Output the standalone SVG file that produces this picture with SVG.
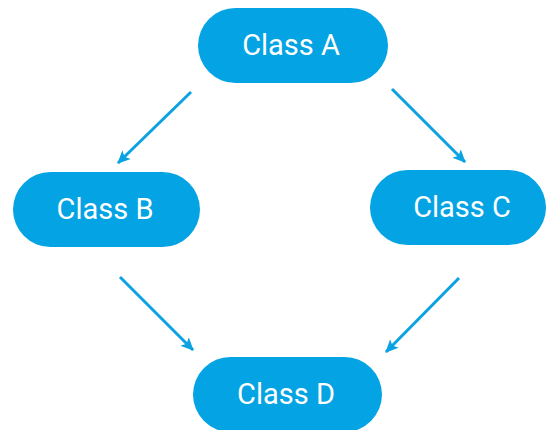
<svg xmlns="http://www.w3.org/2000/svg" width="546" height="430" viewBox="0 0 546 430">
<style>
.node rect{fill:#03a3e4;}
.node text{fill:#ffffff;font-family:Roboto,"Liberation Sans",sans-serif;font-size:29px;text-anchor:middle;dominant-baseline:central;}
.edge{stroke:#0ba2e2;stroke-width:3;fill:none;marker-end:url(#ah);}
</style>
<defs>
<marker id="ah" markerUnits="userSpaceOnUse" markerWidth="14" markerHeight="14" viewBox="0 0 14 14" refX="12" refY="7" orient="auto">
<path d="M0,1 L13,7 L0,13 L3,7 Z" fill="#0ba2e2"/>
</marker>
</defs>
<rect width="546" height="430" fill="#ffffff"/>
<g id="connectors">
<line class="edge" x1="191" y1="92" x2="118" y2="163"/>
<line class="edge" x1="392" y1="89" x2="465" y2="162"/>
<line class="edge" x1="120" y1="277" x2="193" y2="350"/>
<line class="edge" x1="459" y1="278" x2="386" y2="352"/>
</g>
<g id="classA" class="node">
<rect x="198" y="8" width="190" height="75" rx="37.5"/>
<text x="291" y="45">Class A</text>
</g>
<g id="classB" class="node">
<rect x="13" y="172" width="187" height="75" rx="37.5"/>
<text x="105" y="209">Class B</text>
</g>
<g id="classC" class="node">
<rect x="370" y="170" width="176" height="75" rx="37.5"/>
<text x="462" y="207">Class C</text>
</g>
<g id="classD" class="node">
<rect x="193" y="357" width="189" height="75" rx="37.5"/>
<text x="286" y="394">Class D</text>
</g>
</svg>
